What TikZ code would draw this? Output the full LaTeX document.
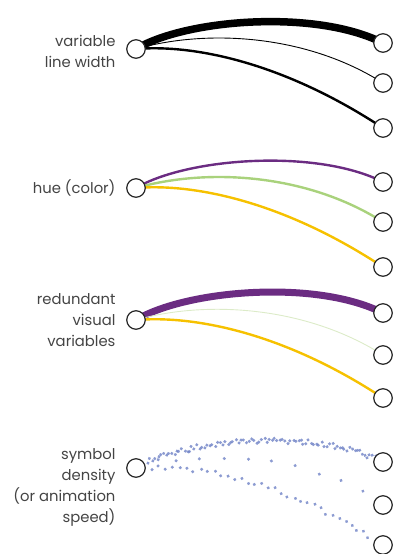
\documentclass[tikz,border=0pt]{standalone}
\usepackage{fontspec}
\setmainfont{Poppins}
\usetikzlibrary{decorations.markings}
\pgfdeclarelayer{bg}
\pgfsetlayers{bg,main}
\definecolor{vpurple}{HTML}{6B2C82}
\definecolor{vgreen}{HTML}{A9D27C}
\definecolor{vpale}{HTML}{DCEBC8}
\definecolor{vyellow}{HTML}{F6C100}
\definecolor{vdot}{HTML}{6F82C6}
\definecolor{vtext}{HTML}{444444}
\begin{document}
\begin{tikzpicture}[x=1pt,y=-1pt,
  port/.style={circle,draw=black!85,line width=1.2pt,fill=white,minimum size=18.5pt,inner sep=0pt},
  lbl/.style={align=right,text=vtext,font=\fontsize{14.8}{21}\selectfont},
  dots/.style={postaction={decorate,decoration={markings,
      mark=between positions #1 with {\fill[vdot,opacity=.8] ({rand*1pt},{rand*2.6pt}) circle (1.7pt);}}}},
]
\pgfmathsetseed{7}
\useasboundingbox (0,0) rectangle (395,554);

% ---- variable line width ----
\node[port] (s1) at (136,49) {};
\node[port] (a1) at (383,43) {};
\node[port] (b1) at (383,83) {};
\node[port] (c1) at (383,128) {};
\node[lbl,anchor=east] (l1) at (119,51) {variable\\line width};

% ---- hue ----
\node[port] (s2) at (136,188) {};
\node[port] (a2) at (383,182) {};
\node[port] (b2) at (383,222) {};
\node[port] (c2) at (383,267) {};
\node[lbl,anchor=east] (l2) at (119,188) {hue (color)};

% ---- redundant ----
\node[port] (s3) at (136,320) {};
\node[port] (a3) at (383,313) {};
\node[port] (b3) at (383,355) {};
\node[port] (c3) at (383,398) {};
\node[lbl,anchor=east] (l3) at (119,320) {redundant\\visual\\variables};

% ---- symbol density ----
\node[port] (s4) at (136,468) {};
\node[port] (a4) at (383,462) {};
\node[port] (b4) at (383,505) {};
\node[port] (c4) at (383,545) {};
\node[lbl,anchor=north east] (l4) at (119,445) {symbol\\density\\(or animation\\speed)};

\begin{pgfonlayer}{bg}
  % line width
  \draw[line width=7.5pt] (s1.center) .. controls +(50,-30) and +(-67,-34) .. (a1.center);
  \draw[line width=0.9pt] (s1.center) .. controls +(70,-20) and +(-77,-49) .. (b1.center);
  \draw[line width=2.4pt] (s1.center) .. controls +(60,-5) and +(-97,-64) .. (c1.center);
  % hue
  \draw[vpurple,line width=2.4pt] (s2.center) .. controls +(50,-30) and +(-67,-34) .. (a2.center);
  \draw[vgreen,line width=2.4pt] (s2.center) .. controls +(70,-20) and +(-77,-49) .. (b2.center);
  \draw[vyellow,line width=2.4pt] (s2.center) .. controls +(60,-5) and +(-97,-64) .. (c2.center);
  % redundant
  \draw[vpurple,line width=7pt] (s3.center) .. controls +(50,-30) and +(-67,-34) .. (a3.center);
  \draw[vpale,line width=0.9pt] (s3.center) .. controls +(70,-20) and +(-77,-49) .. (b3.center);
  \draw[vyellow,line width=2.4pt] (s3.center) .. controls +(60,-5) and +(-97,-64) .. (c3.center);
  % symbol density
  \path[dots={0.05 and 0.97 step 2.6pt}] (s4.center) .. controls +(50,-30) and +(-67,-34) .. (a4.center);
  \path[dots={0.16 and 0.95 step 24pt}] (s4.center) .. controls +(70,-20) and +(-77,-49) .. (b4.center);
  \path[dots={0.06 and 0.96 step 7pt}] (s4.center) .. controls +(60,-5) and +(-97,-64) .. (c4.center);
\end{pgfonlayer}
\end{tikzpicture}
\end{document}
